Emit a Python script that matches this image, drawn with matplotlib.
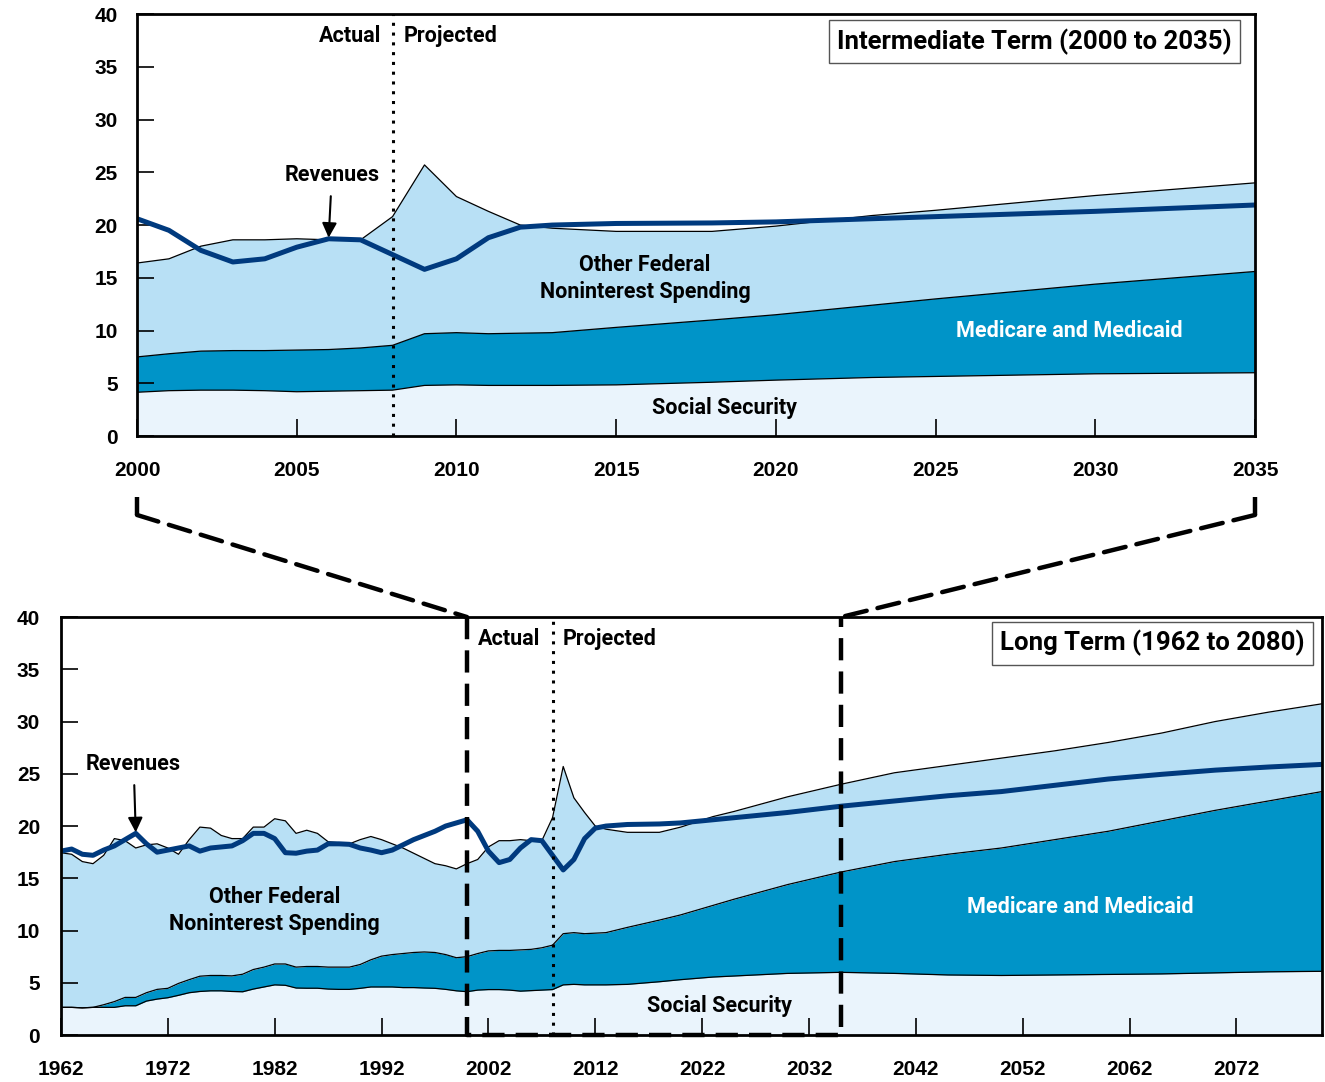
import matplotlib
matplotlib.use("Agg")
import matplotlib.pyplot as plt
import matplotlib.transforms as mtransforms
from matplotlib.patches import ConnectionPatch

plt.rcParams['font.family'] = ['Roboto', 'DejaVu Sans']
plt.rcParams['font.weight'] = 'bold'
TICK_FONT = ['Liberation Sans', 'DejaVu Sans']

# Data (percentage of GDP)
years = list(range(1962, 2014)) + [2015, 2018, 2020, 2023, 2025, 2030, 2035,
                                    2040, 2045, 2050, 2055, 2060, 2065, 2070, 2075, 2080]

social_security = [2.65, 2.65, 2.6, 2.65, 2.65, 2.65, 2.8, 2.8, 3.25, 3.44,
                   3.57, 3.8, 4.05, 4.17, 4.23, 4.23, 4.17, 4.14, 4.4, 4.6,
                   4.8, 4.76, 4.5, 4.48, 4.48, 4.4, 4.37, 4.37, 4.47, 4.6,
                   4.6, 4.6, 4.54, 4.54, 4.5, 4.47, 4.37, 4.23, 4.15, 4.3,
                   4.35, 4.35, 4.3, 4.2, 4.25, 4.3, 4.35, 4.8, 4.85, 4.8,
                   4.8, 4.8,
                   4.85, 5.1, 5.3, 5.55, 5.65, 5.9, 6.0,
                   5.9, 5.75, 5.7, 5.75, 5.8, 5.85, 5.95, 6.05, 6.1]

# top of the Medicare and Medicaid band (Social Security + health)
ss_plus_health = [2.65, 2.65, 2.6, 2.65, 2.9, 3.2, 3.6, 3.6, 4.05, 4.37,
                  4.47, 4.94, 5.3, 5.63, 5.7, 5.7, 5.66, 5.82, 6.27, 6.5,
                  6.8, 6.8, 6.5, 6.56, 6.56, 6.5, 6.5, 6.5, 6.75, 7.2,
                  7.55, 7.7, 7.8, 7.9, 7.95, 7.9, 7.7, 7.4, 7.5, 7.8,
                  8.05, 8.1, 8.1, 8.15, 8.2, 8.35, 8.6, 9.7, 9.8, 9.7,
                  9.75, 9.8,
                  10.3, 11.0, 11.5, 12.4, 13.0, 14.4, 15.6,
                  16.6, 17.3, 17.9, 18.7, 19.5, 20.5, 21.5, 22.4, 23.3]

# total noninterest spending
total_spending = [17.45, 17.3, 16.6, 16.4, 17.2, 18.8, 18.6, 17.9, 18.2, 18.3,
                  17.9, 17.3, 18.7, 19.9, 19.8, 19.1, 18.8, 18.8, 19.9, 19.9,
                  20.7, 20.5, 19.3, 19.6, 19.3, 18.5, 18.4, 18.3, 18.7, 19.0,
                  18.7, 18.3, 17.9, 17.4, 16.9, 16.4, 16.2, 15.9, 16.4, 16.8,
                  18.0, 18.6, 18.6, 18.7, 18.6, 18.6, 20.8, 25.7, 22.7, 21.3,
                  20.0, 19.7,
                  19.4, 19.4, 19.9, 20.9, 21.4, 22.8, 24.0,
                  25.1, 25.8, 26.5, 27.2, 28.0, 28.9, 30.0, 30.9, 31.7]

revenues = [17.6, 17.8, 17.3, 17.2, 17.7, 18.1, 18.7, 19.3, 18.3, 17.5,
            17.7, 17.9, 18.1, 17.6, 17.9, 18.0, 18.1, 18.6, 19.3, 19.3,
            18.8, 17.45, 17.4, 17.6, 17.7, 18.3, 18.3, 18.25, 17.9, 17.7,
            17.45, 17.7, 18.2, 18.7, 19.1, 19.5, 20.0, 20.3, 20.6, 19.5,
            17.6, 16.5, 16.8, 17.9, 18.7, 18.6, 17.2, 15.8, 16.8, 18.8,
            19.8, 20.0,
            20.15, 20.2, 20.3, 20.6, 20.8, 21.3, 21.9,
            22.4, 22.9, 23.3, 23.9, 24.5, 24.95, 25.35, 25.65, 25.9]

c_ss = '#EAF4FC'
c_health = '#0094C8'
c_other = '#B8E0F5'
c_rev = '#003A7E'

LABEL = 15.5
TITLE = 18.5

fig = plt.figure(figsize=(13.25, 10.82), dpi=100)
ax_top = fig.add_axes([0.1034, 0.597, 0.8438, 0.390])
ax_bot = fig.add_axes([0.0460, 0.0434, 0.9517, 0.3863])


def draw_stack(ax):
    ax.fill_between(years, 0, social_security, color=c_ss, lw=0)
    ax.fill_between(years, social_security, ss_plus_health, color=c_health, lw=0)
    ax.fill_between(years, ss_plus_health, total_spending, color=c_other, lw=0)
    for s in (social_security, ss_plus_health, total_spending):
        ax.plot(years, s, color='black', lw=0.9)
    ax.plot(years, revenues, color=c_rev, lw=3.6, solid_joinstyle='round')
    ax.axvline(2008, color='black', lw=2.2, linestyle=(0, (1, 2.2)))
    ax.set_ylim(0, 40)
    ax.set_yticks(range(0, 41, 5))
    for side in ax.spines.values():
        side.set_linewidth(2)
    ax.tick_params(direction='in', length=12, width=1.2, labelsize=15)


def tick_fonts(ax):
    for lab in ax.get_xticklabels() + ax.get_yticklabels():
        lab.set_family(TICK_FONT)
        lab.set_fontweight('bold')


title_box = dict(boxstyle='square,pad=0.32', fc='white', ec='#555555', lw=1)

# Intermediate term
draw_stack(ax_top)
ax_top.set_xlim(2000, 2035)
ax_top.set_xticks(range(2000, 2036, 5))
tick_fonts(ax_top)
ax_top.tick_params(axis='y', pad=14)
ax_top.tick_params(axis='x', pad=18)
ax_top.text(2007.65, 37.9, 'Actual', ha='right', va='center', fontsize=LABEL)
ax_top.text(2008.35, 37.9, 'Projected', ha='left', va='center', fontsize=LABEL)
ax_top.text(2028.1, 37.4, 'Intermediate Term (2000 to 2035)', ha='center', va='center',
            fontsize=TITLE, bbox=title_box)
ax_top.annotate('Revenues', xy=(2006.0, 18.8), xytext=(2006.1, 24.7),
                ha='center', va='center', fontsize=LABEL,
                arrowprops=dict(arrowstyle='-|>', color='black', lw=1.5,
                                mutation_scale=22, shrinkA=5, shrinkB=0))
ax_top.text(2015.9, 14.9, 'Other Federal\nNoninterest Spending', ha='center', va='center',
            fontsize=LABEL, linespacing=1.3)
ax_top.text(2029.2, 9.95, 'Medicare and Medicaid', ha='center', va='center',
            fontsize=LABEL, color='white')
ax_top.text(2018.4, 2.65, 'Social Security', ha='center', va='center', fontsize=LABEL)

# Long term
draw_stack(ax_bot)
ax_bot.set_xlim(1962, 2080)
ax_bot.set_xticks(range(1962, 2080, 10))
tick_fonts(ax_bot)
ax_bot.tick_params(axis='y', pad=15)
ax_bot.tick_params(axis='x', pad=18)
ax_bot.text(2006.9, 37.9, 'Actual', ha='right', va='center', fontsize=LABEL)
ax_bot.text(2008.9, 37.9, 'Projected', ha='left', va='center', fontsize=LABEL)
ax_bot.text(2064.1, 37.5, 'Long Term (1962 to 2080)', ha='center', va='center',
            fontsize=TITLE, bbox=title_box)
ax_bot.annotate('Revenues', xy=(1969.0, 19.4), xytext=(1968.8, 25.9),
                ha='center', va='center', fontsize=LABEL,
                arrowprops=dict(arrowstyle='-|>', color='black', lw=1.5,
                                mutation_scale=22, shrinkA=5, shrinkB=0))
ax_bot.text(1982.0, 11.96, 'Other Federal\nNoninterest Spending', ha='center', va='center',
            fontsize=LABEL, linespacing=1.3)
ax_bot.text(2057.4, 12.25, 'Medicare and Medicaid', ha='center', va='center',
            fontsize=LABEL, color='white')
ax_bot.text(2023.6, 2.78, 'Social Security', ha='center', va='center', fontsize=LABEL)

# zoom outline
dash = dict(color='black', lw=3.2, linestyle=(0, (5, 2.5)), clip_on=False)
ax_bot.plot([2000, 2000, 2035, 2035], [40, 0, 0, 40], **dash)
blend_top = mtransforms.blended_transform_factory(ax_top.transData, ax_top.transAxes)
for yr in (2000, 2035):
    ax_top.plot([yr, yr], [-0.145, -0.187], transform=blend_top, **dash)
    con = ConnectionPatch(xyA=(yr, -0.187), coordsA=blend_top,
                          xyB=(yr, 40), coordsB=ax_bot.transData,
                          color='black', lw=3.2, linestyle=(0, (5, 2.5)))
    fig.add_artist(con)

fig.savefig('out.png', dpi=100)
